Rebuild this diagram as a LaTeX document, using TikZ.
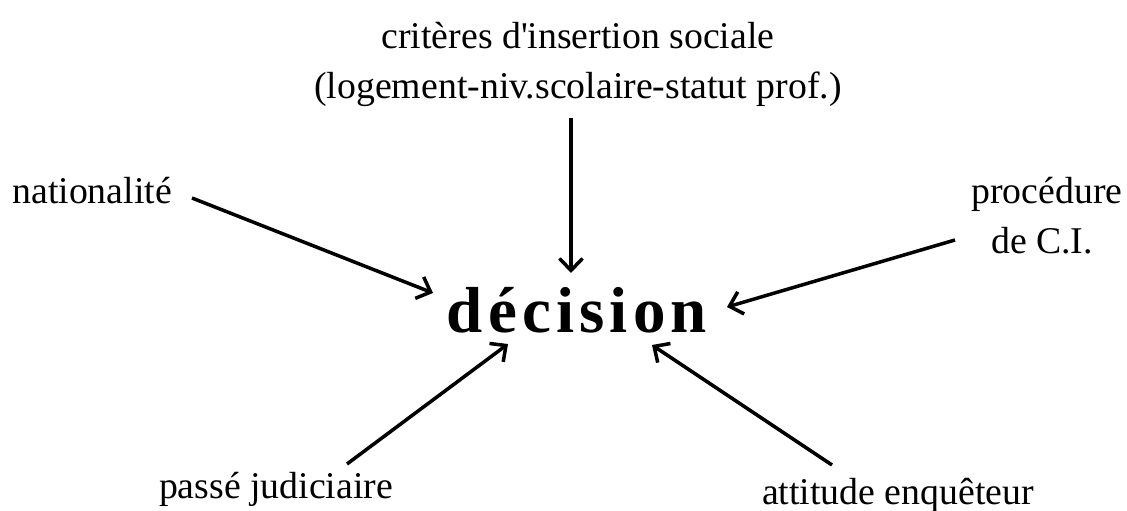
\documentclass[tikz,border=0pt]{standalone}
\usepackage{fontspec}
\setmainfont{Liberation Serif}
\usetikzlibrary{arrows.meta}
\tikzset{
  lbl/.style={font=\fontsize{21.5}{26}\selectfont, anchor=base, inner sep=0pt},
  dec/.style={font=\fontsize{37}{40}\selectfont\bfseries\addfontfeature{LetterSpace=8}, anchor=base, inner sep=0pt},
  arr/.style={-{Straight Barb[length=2.4mm,width=4.6mm]}, line width=2pt}
}
\begin{document}
\begin{tikzpicture}[x=0.02cm,y=-0.02cm]
\useasboundingbox (0,0) rectangle (1127,511);

% Texts
\node[lbl] (crit) at (578,48) {critères d\textquotesingle insertion sociale};
\node[lbl] (critsub) at (578,98) {(logement-niv.scolaire-statut prof.)};
\node[lbl, anchor=base west] (nat) at (12,203) {nationalité};
\node[lbl] (proc) at (1047,203) {procédure};
\node[lbl] (procsub) at (1042,253) {de C.I.};
\node[dec] (decision) at (577,332) {décision};
\node[lbl] (passe) at (276,498) {passé judiciaire};
\node[lbl] (attitude) at (898,504) {attitude enquêteur};

% Arrow ends
\coordinate (natA) at (192,198);  \coordinate (natB) at (433,293);
\coordinate (critA) at (571,118); \coordinate (critB) at (571,273);
\coordinate (procA) at (955,240); \coordinate (procB) at (727,307);
\coordinate (passeA) at (347,464); \coordinate (passeB) at (508,344);
\coordinate (attA) at (832,465); \coordinate (attB) at (652,345);

% Arrows into decision
\draw[arr] (natA) -- (natB);
\draw[arr] (critA) -- (critB);
\draw[arr] (procA) -- (procB);
\draw[arr] (passeA) -- (passeB);
\draw[arr] (attA) -- (attB);
\end{tikzpicture}
\end{document}
